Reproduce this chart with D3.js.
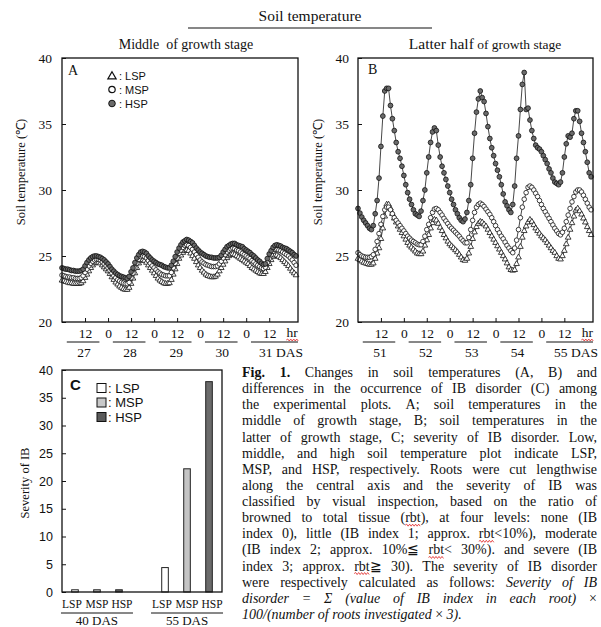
<!DOCTYPE html>
<html>
<head>
<meta charset="utf-8">
<script src="https://cdnjs.cloudflare.com/ajax/libs/d3/7.8.5/d3.min.js"></script>
<style>
  body { margin: 0; background: #fff; }
  svg text { font-family: "Liberation Serif", "Times New Roman", serif; fill: #111; }
</style>
</head>
<body>
<svg id="fig" width="601" height="627"></svg>
<script>
// hourly readings, hour 0 = 0:00 of the first day shown
var hours = d3.range(0, 123);
var hrTicks = [12, 24, 36, 48, 60, 72, 84, 96, 108];
var yTicks = [20, 25, 30, 35, 40];
var daysA = [27, 28, 29, 30, 31];
var daysB = [51, 52, 53, 54, 55];

// panel A: middle of growth stage
var lspA = [23.15, 23.1, 23.05, 23.0, 22.95, 22.95, 22.9, 22.9, 22.9, 22.9, 22.95, 23.1,
  23.35, 23.6, 23.85, 24.1, 24.3, 24.45, 24.5, 24.5, 24.45, 24.3, 24.15, 24.0,
  23.85, 23.65, 23.4, 23.2, 23.0, 22.85, 22.7, 22.6, 22.5, 22.45, 22.45, 22.6,
  22.9, 23.3, 23.7, 24.1, 24.45, 24.65, 24.7, 24.65, 24.5, 24.3, 24.1, 23.9,
  23.7, 23.5, 23.3, 23.15, 23.05, 22.95, 22.9, 22.9, 22.95, 23.2, 23.6, 24.0,
  24.4, 24.8, 25.05, 25.25, 25.4, 25.45, 25.4, 25.2, 25.0, 24.8, 24.55, 24.3,
  24.1, 23.9, 23.75, 23.6, 23.5, 23.45, 23.4, 23.4, 23.45, 23.6, 23.85, 24.1,
  24.35, 24.6, 24.85, 25.0, 25.1, 25.15, 25.1, 25.0, 24.9, 24.8, 24.7, 24.6,
  24.5, 24.4, 24.25, 24.1, 24.0, 23.9, 23.8, 23.7, 23.65, 23.65, 23.8, 24.1,
  24.4, 24.7, 24.95, 25.05, 25.05, 24.95, 24.85, 24.7, 24.55, 24.4, 24.25, 24.05,
  23.85, 23.7, 23.55];
var mspA = [23.55, 23.5, 23.45, 23.4, 23.4, 23.35, 23.35, 23.3, 23.3, 23.3, 23.35, 23.5,
  23.75, 24.0, 24.25, 24.45, 24.6, 24.7, 24.75, 24.75, 24.7, 24.55, 24.4, 24.25,
  24.1, 23.9, 23.7, 23.5, 23.35, 23.2, 23.1, 23.0, 22.95, 22.9, 22.9, 23.0,
  23.35, 23.7, 24.1, 24.45, 24.75, 24.95, 25.0, 24.95, 24.85, 24.65, 24.45, 24.25,
  24.1, 23.95, 23.8, 23.7, 23.6, 23.55, 23.5, 23.5, 23.5, 23.75, 24.1, 24.45,
  24.85, 25.2, 25.45, 25.65, 25.8, 25.85, 25.8, 25.65, 25.5, 25.3, 25.1, 24.9,
  24.7, 24.55, 24.45, 24.35, 24.3, 24.25, 24.2, 24.2, 24.2, 24.25, 24.4, 24.6,
  24.85, 25.1, 25.3, 25.45, 25.55, 25.6, 25.55, 25.45, 25.4, 25.3, 25.2, 25.1,
  25.0, 24.9, 24.8, 24.65, 24.55, 24.4, 24.3, 24.2, 24.1, 24.05, 24.15, 24.5,
  24.8, 25.1, 25.35, 25.5, 25.5, 25.45, 25.4, 25.3, 25.2, 25.1, 25.0, 24.85,
  24.7, 24.5, 24.3];
var hspA = [24.1, 24.05, 24.0, 24.0, 23.95, 23.9, 23.9, 23.85, 23.85, 23.85, 23.9, 24.0,
  24.25, 24.5, 24.7, 24.85, 24.95, 25.0, 25.0, 24.95, 24.9, 24.8, 24.7, 24.55,
  24.4, 24.2, 24.0, 23.85, 23.7, 23.6, 23.5, 23.45, 23.4, 23.35, 23.3, 23.45,
  23.8, 24.1, 24.5, 24.85, 25.1, 25.3, 25.35, 25.3, 25.2, 25.0, 24.85, 24.7,
  24.6, 24.5, 24.4, 24.35, 24.3, 24.2, 24.15, 24.1, 24.1, 24.3, 24.6, 24.95,
  25.3, 25.6, 25.85, 26.05, 26.15, 26.25, 26.2, 26.1, 26.0, 25.8, 25.6, 25.45,
  25.3, 25.2, 25.1, 25.0, 24.95, 24.9, 24.9, 24.85, 24.85, 24.85, 24.9, 25.05,
  25.3, 25.5, 25.7, 25.8, 25.9, 25.95, 25.95, 25.85, 25.8, 25.75, 25.7, 25.55,
  25.45, 25.35, 25.25, 25.1, 25.0, 24.85, 24.7, 24.6, 24.45, 24.35, 24.4, 24.8,
  25.15, 25.4, 25.65, 25.8, 25.85, 25.8, 25.75, 25.65, 25.6, 25.55, 25.45, 25.35,
  25.25, 25.1, 25.0];

// panel B: latter half of growth stage
var lspB = [24.8, 24.7, 24.6, 24.5, 24.45, 24.4, 24.35, 24.35, 24.45, 24.8, 25.2, 25.6,
  26.3, 27.1, 28.0, 28.9, 28.9, 28.6, 28.2, 27.85, 27.55, 27.25, 27.0, 26.75,
  26.5, 26.25, 26.0, 25.8, 25.65, 25.5, 25.35, 25.2, 25.15, 25.15, 25.35, 25.8,
  26.2, 26.6, 27.1, 27.5, 27.75, 27.7, 27.45, 27.15, 26.9, 26.6, 26.35, 26.1,
  25.9, 25.75, 25.6, 25.45, 25.3, 25.1, 24.9, 24.7, 24.65, 24.8, 25.2, 25.7,
  26.3, 26.8, 27.2, 27.45, 27.6, 27.55, 27.4, 27.25, 27.0, 26.75, 26.5, 26.25,
  26.0, 25.75, 25.5, 25.25, 25.0, 24.75, 24.45, 24.15, 23.95, 23.9, 23.95, 24.4,
  24.9, 25.7, 26.4, 26.9, 27.25, 27.55, 27.75, 27.6, 27.35, 27.1, 26.9, 26.7,
  26.5, 26.35, 26.2, 26.0, 25.8, 25.6, 25.4, 25.25, 25.0, 24.8, 24.75, 25.0,
  25.4, 25.9, 26.4, 27.0, 27.5, 28.0, 28.45, 28.6, 28.4, 28.15, 27.85, 27.55,
  27.2, 26.9, 26.6];
var mspB = [25.25, 25.1, 25.0, 24.95, 24.9, 24.9, 24.9, 24.95, 25.1, 25.5, 26.1, 26.7,
  27.4, 28.0, 28.5, 28.7, 28.7, 28.5, 28.2, 27.9, 27.7, 27.5, 27.3, 27.1,
  26.9, 26.7, 26.5, 26.35, 26.2, 26.1, 26.0, 25.9, 25.85, 25.85, 26.1, 26.5,
  27.0, 27.4, 27.9, 28.3, 28.55, 28.6, 28.5, 28.3, 28.1, 27.85, 27.65, 27.45,
  27.25, 27.1, 26.95, 26.8, 26.65, 26.5, 26.3, 26.15, 26.0, 26.0, 26.4, 27.0,
  27.7, 28.3, 28.7, 28.9, 29.0, 28.9, 28.75, 28.55, 28.35, 28.15, 27.9, 27.6,
  27.3, 27.0, 26.75, 26.5, 26.3, 26.05, 25.8, 25.6, 25.4, 25.25, 25.6, 26.2,
  27.0, 27.9, 28.7, 29.3, 29.8, 30.2, 30.3, 30.2, 30.0, 29.75, 29.5, 29.2,
  28.9, 28.6, 28.35, 28.1, 27.85, 27.6, 27.35, 27.1, 26.9, 26.7, 26.6, 26.8,
  27.1, 27.6, 28.1, 28.6, 29.1, 29.5, 29.85, 30.0, 30.0, 29.85, 29.6, 29.3,
  29.0, 28.7, 28.5];
var hspB = [28.6, 28.25, 27.95, 27.7, 27.5, 27.3, 27.1, 27.0, 27.3, 28.2, 29.2, 30.9,
  33.3, 35.6, 37.5, 37.7, 37.7, 36.4, 35.4, 34.5, 33.6, 32.9, 32.4, 31.8,
  31.1, 30.4, 29.8, 29.3, 28.9, 28.5, 28.2, 28.1, 28.0, 28.4, 29.2, 30.0,
  31.3, 32.5, 33.6, 34.4, 34.7, 34.5, 33.4, 32.5, 31.8, 31.3, 30.8, 30.3,
  29.8, 29.3, 28.9, 28.5, 28.2, 27.9, 27.7, 27.6, 27.8, 28.3, 29.2, 30.4,
  32.4, 34.3, 35.9, 36.9, 37.5, 37.0, 36.7, 35.8, 34.8, 33.9, 33.2, 32.6,
  32.0, 31.5, 31.0, 30.4, 29.7, 29.1, 28.8, 28.5, 28.3, 28.9, 30.3, 32.4,
  34.1, 36.1, 38.0, 38.9, 36.1, 36.2, 35.3, 34.5, 33.9, 33.4, 33.2, 33.1,
  32.9, 32.6, 32.3, 32.0, 31.6, 31.3, 30.9, 30.6, 30.5, 30.4, 30.6, 31.3,
  32.5, 33.5, 34.1, 34.0, 34.3, 35.4, 36.0, 36.0, 35.2, 34.3, 33.6, 32.9,
  32.1, 31.3, 31.0];

// panel C: severity of IB
var plotNames = ["LSP", "MSP", "HSP"];
var ibGroups = ["40 DAS", "55 DAS"];
var ib40 = [0.4, 0.4, 0.4];
var ib55 = [4.4, 22.2, 37.9];
var ibTicks = [0, 5, 10, 15, 20, 25, 30, 35, 40];

var capLines = [
  "*Fig. *1. Changes in soil temperatures (A, B) and",
  "differences in the occurrence of IB disorder (C) among",
  "the experimental plots. A; soil temperatures in the",
  "middle of growth stage, B; soil temperatures in the",
  "latter of growth stage, C; severity of IB disorder. Low,",
  "middle, and high soil temperature plot indicate LSP,",
  "MSP, and HSP, respectively. Roots were cut lengthwise",
  "along the central axis and the severity of IB was",
  "classified by visual inspection, based on the ratio of",
  "browned to total tissue ~(rbt), at four levels: none (IB",
  "index 0), little (IB index 1; approx. ~rbt<10%), moderate",
  "(IB index 2; approx. 10%\u2266 ~rbt< 30%). and severe (IB",
  "index 3; approx. ~rbt\u2267 30). The severity of IB disorder",
  "were respectively calculated as follows: _Severity _of _IB",
  "_disorder _= _\u03a3 _(value _of _IB _index _in _each _root) \u00d7",
  "_100/(number _of _roots _investigated \u00d7 _3)."
];

var svg = d3.select("#fig");
var plotTop = 58, panelH = 264;
var y = d3.scaleLinear().domain([20, 40]).range([panelH, 0]);

function squiggle(x1, x2, yy) {
  var p = d3.path(), up = true;
  p.moveTo(x1, yy);
  for (var xx = x1 + 1.5; xx <= x2 + 0.1; xx += 1.5) {
    p.lineTo(xx, yy + (up ? -1 : 1));
    up = !up;
  }
  svg.append("path").attr("d", p.toString()).attr("fill", "none")
    .attr("stroke", "#e02020").attr("stroke-width", 0.8);
}

// top header
svg.append("text").attr("x", 310).attr("y", 21).attr("text-anchor", "middle")
  .style("font-size", "15.5px").text("Soil temperature");
svg.append("line").attr("x1", 188).attr("x2", 432).attr("y1", 28).attr("y2", 28)
  .attr("stroke", "#111").attr("stroke-width", 1.2);

function drawPanel(o) {
  var xs = d3.scaleLinear().domain([0, 123]).range([0, o.width]);
  var g = svg.append("g").attr("transform", "translate(" + o.left + "," + plotTop + ")");

  var xAxis = d3.axisBottom(xs).tickValues(hrTicks)
    .tickSizeInner(-4).tickSizeOuter(0).tickPadding(6)
    .tickFormat(function(d) { return d % 24 ? "12" : "0"; });
  var yAxis = d3.axisLeft(y).tickValues(yTicks)
    .tickSizeInner(-4).tickSizeOuter(0).tickPadding(o.ypad);

  g.append("g").attr("transform", "translate(0," + panelH + ")").call(xAxis);
  g.append("g").call(yAxis);
  g.selectAll(".domain").remove();
  g.selectAll(".tick text").style("font-size", "13.5px");
  g.selectAll(".tick line").attr("stroke", "#111");

  var line = d3.line()
    .x(function(d, i) { return xs(hours[i]); })
    .y(function(d) { return y(d); });

  [o.lsp, o.msp, o.hsp].forEach(function(vals) {
    g.append("path").datum(vals).attr("d", line)
      .attr("fill", "none").attr("stroke", "#333").attr("stroke-width", 0.9);
  });

  g.selectAll(".lsp").data(o.lsp).enter().append("path").attr("class", "lsp")
    .attr("d", d3.symbol().type(d3.symbolTriangle).size(14))
    .attr("transform", function(d, i) { return "translate(" + xs(hours[i]) + "," + y(d) + ")"; })
    .attr("fill", "#fff").attr("stroke", "#111").attr("stroke-width", 0.8);
  g.selectAll(".msp").data(o.msp).enter().append("circle").attr("class", "msp")
    .attr("cx", function(d, i) { return xs(hours[i]); })
    .attr("cy", function(d) { return y(d); })
    .attr("r", 2.3)
    .attr("fill", "#fff").attr("stroke", "#111").attr("stroke-width", 0.8);
  g.selectAll(".hsp").data(o.hsp).enter().append("circle").attr("class", "hsp")
    .attr("cx", function(d, i) { return xs(hours[i]); })
    .attr("cy", function(d) { return y(d); })
    .attr("r", 2.4)
    .attr("fill", "#6a6a6a").attr("stroke", "#111").attr("stroke-width", 0.8);

  g.append("rect").attr("width", o.width).attr("height", panelH)
    .attr("fill", "none").attr("stroke", "#111").attr("stroke-width", 1.3);

  // hr label + day labels under the axis
  g.append("text").attr("x", xs(120)).attr("y", panelH + 15).attr("text-anchor", "middle")
    .style("font-size", "13.5px").text("hr");
  squiggle(o.left + xs(120) - 6, o.left + xs(120) + 6, plotTop + panelH + 18);

  o.days.forEach(function(d, i) {
    var h0 = i * 24, last = i === o.days.length - 1;
    var x1 = xs(h0 + 2.5), x2 = last ? o.width : xs(h0 + 19.5);
    g.append("line").attr("x1", x1).attr("x2", x2)
      .attr("y1", panelH + 20).attr("y2", panelH + 20)
      .attr("stroke", "#111").attr("stroke-width", 1);
    g.append("text")
      .attr("x", last ? o.width + 5 : xs(h0 + 11.5))
      .attr("y", panelH + 35)
      .attr("text-anchor", last ? "end" : "middle")
      .style("font-size", "13.5px")
      .text(last ? d + " DAS" : d);
  });

  g.append("text").attr("x", o.letterX).attr("y", o.letterY)
    .style("font-size", "14px").text(o.letter);

  g.append("text")
    .attr("transform", "translate(" + o.ylabX + "," + (panelH / 2 - 18) + ") rotate(-90)")
    .attr("text-anchor", "middle").style("font-size", "12.5px")
    .text("Soil temperature (\u2103)");

  var t = svg.append("text").attr("x", o.titleX).attr("y", 49).attr("text-anchor", "middle");
  o.title.forEach(function(p) {
    t.append("tspan").style("font-size", p[1] + "px").text(p[0]);
  });

  if (o.legend) {
    var lg = g.append("g").attr("transform", "translate(50,0)");
    var rows = [17.5, 31.5, 45.5];
    lg.append("path").attr("d", d3.symbol().type(d3.symbolTriangle).size(30))
      .attr("transform", "translate(0," + (rows[0] + 1) + ")")
      .attr("fill", "#fff").attr("stroke", "#111").attr("stroke-width", 1.2);
    lg.append("circle").attr("cy", rows[1]).attr("r", 3.2)
      .attr("fill", "#fff").attr("stroke", "#111").attr("stroke-width", 1.2);
    lg.append("circle").attr("cy", rows[2]).attr("r", 3.3)
      .attr("fill", "#6a6a6a").attr("stroke", "#111").attr("stroke-width", 1);
    plotNames.forEach(function(n, i) {
      lg.append("text").attr("x", 7).attr("y", rows[i] + 4)
        .style("font-family", "'Liberation Sans', Arial, sans-serif")
        .style("font-size", "11px").text(": " + n);
    });
  }
}

drawPanel({ left: 62, width: 236, ypad: 10, lsp: lspA, msp: mspA, hsp: hspA,
  days: daysA, letter: "A", letterX: 6, letterY: 17, ylabX: -37, legend: true,
  titleX: 186, title: [["Middle", 14], ["\u00a0 of growth stage", 14]] });
drawPanel({ left: 358, width: 235, ypad: 9, lsp: lspB, msp: mspB, hsp: hspB,
  days: daysB, letter: "B", letterX: 10, letterY: 16, ylabX: -36, legend: false,
  titleX: 485, title: [["Latter half", 15.5], ["\u00a0of growth stage", 13.5]] });

// panel C: bar chart
var cW = 160, cH = 222;
var gC = svg.append("g").attr("transform", "translate(62,370)");
var yC = d3.scaleLinear().domain([0, 40]).range([cH, 0]);
var x0 = d3.scaleBand().domain(ibGroups).range([0, cW]).paddingInner(0.267).paddingOuter(0.022);
var x1 = d3.scaleBand().domain(plotNames).range([0, x0.bandwidth()]).paddingInner(0.7).paddingOuter(0.35);
var barFill = { LSP: "#ffffff", MSP: "#c4c4c4", HSP: "#6b6b6b" };
var legFill = { LSP: "#ffffff", MSP: "#c8c8c8", HSP: "#5a5a5a" };

gC.append("g").call(d3.axisLeft(yC).tickValues(ibTicks)
  .tickSizeInner(-4).tickSizeOuter(0).tickPadding(9));
gC.selectAll(".domain").remove();
gC.selectAll(".tick line").attr("stroke", "#111");
gC.selectAll(".tick text")
  .style("font-family", "'Liberation Sans', Arial, sans-serif").style("font-size", "12.5px");

var ibData = [ib40, ib55];
ibGroups.forEach(function(grp, gi) {
  var gx = x0(grp);
  gC.selectAll(".bar" + gi).data(ibData[gi]).enter().append("rect").attr("class", "bar" + gi)
    .attr("x", function(d, i) { return gx + x1(plotNames[i]); })
    .attr("y", function(d) { return yC(d); })
    .attr("width", x1.bandwidth())
    .attr("height", function(d) { return cH - yC(d); })
    .attr("fill", function(d, i) { return barFill[plotNames[i]]; })
    .attr("stroke", "#222").attr("stroke-width", 1);

  var cx = gx + x0.bandwidth() / 2;
  plotNames.forEach(function(n, i) {
    gC.append("text").attr("x", cx + (i - 1) * 25).attr("y", cH + 16)
      .attr("text-anchor", "middle").style("font-size", "11.5px").text(n);
  });
  gC.append("line").attr("x1", gx - 3).attr("x2", gx + x0.bandwidth() + 3)
    .attr("y1", cH + 21).attr("y2", cH + 21).attr("stroke", "#111").attr("stroke-width", 1);
  gC.append("text").attr("x", cx).attr("y", cH + 33).attr("text-anchor", "middle")
    .style("font-size", "13px").text(grp);
});

gC.append("rect").attr("width", cW).attr("height", cH)
  .attr("fill", "none").attr("stroke", "#111").attr("stroke-width", 1.3);

gC.append("text").attr("x", 8).attr("y", 20)
  .style("font-family", "'Liberation Sans', Arial, sans-serif")
  .style("font-size", "15px").style("font-weight", "bold").text("C");

plotNames.forEach(function(n, i) {
  var cy = 18 + i * 14.5;
  gC.append("rect").attr("x", 35).attr("y", cy - 4.5).attr("width", 9).attr("height", 9)
    .attr("fill", legFill[n]).attr("stroke", "#111").attr("stroke-width", 1);
  gC.append("text").attr("x", 46).attr("y", cy + 4.5)
    .style("font-family", "'Liberation Sans', Arial, sans-serif")
    .style("font-size", "13px").text(": " + n);
});

svg.append("text").attr("transform", "translate(29,483) rotate(-90)")
  .attr("text-anchor", "middle").style("font-size", "12.5px").text("Severity of IB");

// caption, justified line by line
var capX = 242, capW = 355, capY0 = 377, capDy = 16.13;
capLines.forEach(function(ln, li) {
  var by = capY0 + li * capDy;
  var words = ln.split(" ").map(function(w) {
    var flag = "", t = w;
    while (t.length > 1 && "*_~".indexOf(t[0]) >= 0) { flag += t[0]; t = t.slice(1); }
    var tx = svg.append("text").attr("y", by).style("font-size", "14px").text(t);
    if (flag.indexOf("*") >= 0) tx.style("font-weight", "bold");
    if (flag.indexOf("_") >= 0) tx.style("font-style", "italic");
    return { sel: tx, t: t, w: tx.node().getComputedTextLength(), sq: flag.indexOf("~") >= 0 };
  });
  var total = d3.sum(words, function(d) { return d.w; });
  var last = li === capLines.length - 1;
  var gap = last ? 3.5 : Math.max(2, (capW - total) / (words.length - 1));
  var cx = capX;
  words.forEach(function(d) {
    d.sel.attr("x", cx);
    if (d.sq) {
      var el = d.sel.node(), k = d.t.indexOf("rbt");
      var sx = cx + (k > 0 ? el.getSubStringLength(0, k) : 0);
      squiggle(sx, sx + el.getSubStringLength(k, 3), by + 3);
    }
    cx += d.w + gap;
  });
});
</script>
</body>
</html>
